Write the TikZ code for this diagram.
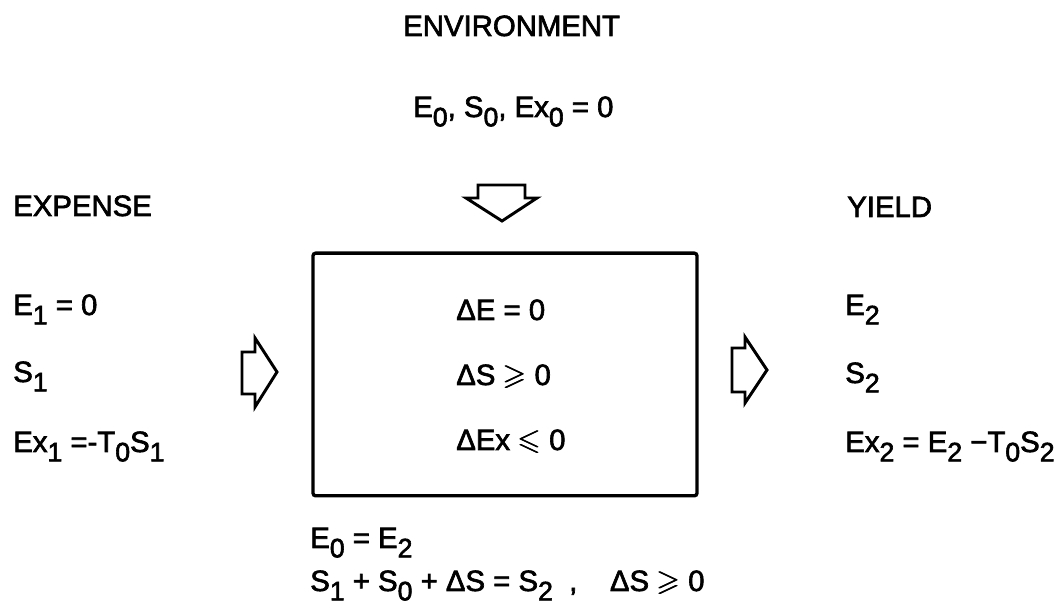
\documentclass[tikz,border=0pt]{standalone}
\usepackage{amsmath,amssymb}
\usepackage{fontspec}
\setmainfont{Liberation Sans}[FakeBold=2.2]
\usetikzlibrary{positioning}
\newcommand{\lowidx}[1]{\raisebox{-7pt}{\fontsize{20}{20}\selectfont#1}}
\newcommand{\gslant}{\mathrel{\pmb{\geqslant}}}
\newcommand{\lslant}{\mathrel{\pmb{\leqslant}}}

\begin{document}
\begin{tikzpicture}[x=0.75pt,y=-0.75pt,
  lbl/.style={anchor=base west,inner sep=0pt,font=\fontsize{22}{26}\selectfont},
  sysbox/.style={draw,line width=2.5pt,rounded corners=2pt,minimum width=288pt,minimum height=182pt,inner sep=0pt},
  flow/.style={draw,line width=2.2pt,line join=miter}]
\useasboundingbox (0,0) rectangle (1058,609);
% environment
\node[lbl] (envtitle) at (403,36) {ENVIRONMENT};
\node[lbl] (envstate) at (413,117) {E\lowidx{0}, S\lowidx{0}, Ex\lowidx{0} = 0};
\draw[flow] (478,185) -- (525,185) -- (525,198) -- (537,198) -- (502,221) -- (466,198) -- (478,198) -- cycle;
% system
\node[sysbox] (system) at (505,374.5) {};
\node[lbl] (dE) at (456,320) {ΔE = 0};
\node[lbl] (dS) at (456,385) {ΔS $\gslant$ 0};
\node[lbl] (dEx) at (456,450) {ΔEx $\lslant$ 0};
% expense side
\node[lbl] (expense) at (13,216) {EXPENSE};
\node[lbl] (eone) at (13,315) {E\lowidx{1} = 0};
\node[lbl] (sone) at (13,382) {S\lowidx{1}};
\node[lbl] (exone) at (13,452) {Ex\lowidx{1} =-T\lowidx{0}S\lowidx{1}};
\draw[flow] (242,352) -- (255,352) -- (255,338) -- (277,372) -- (255,407) -- (255,394) -- (242,394) -- cycle;
% yield side
\node[lbl] (yield) at (847,217) {YIELD};
\node[lbl] (etwo) at (845,315) {E\lowidx{2}};
\node[lbl] (stwo) at (845,383) {S\lowidx{2}};
\node[lbl] (extwo) at (845,452) {Ex\lowidx{2} = E\lowidx{2} −T\lowidx{0}S\lowidx{2}};
\draw[flow] (732,348) -- (745,348) -- (745,337) -- (767,370) -- (745,403) -- (745,392) -- (732,392) -- cycle;
% balances
\node[lbl] (energybal) at (310,548) {E\lowidx{0} = E\lowidx{2}};
\node[lbl] (entropybal) at (310,591) {S\lowidx{1} + S\lowidx{0} + ΔS = S\lowidx{2} \ , \ \ \ ΔS $\gslant$ 0};
\end{tikzpicture}
\end{document}
